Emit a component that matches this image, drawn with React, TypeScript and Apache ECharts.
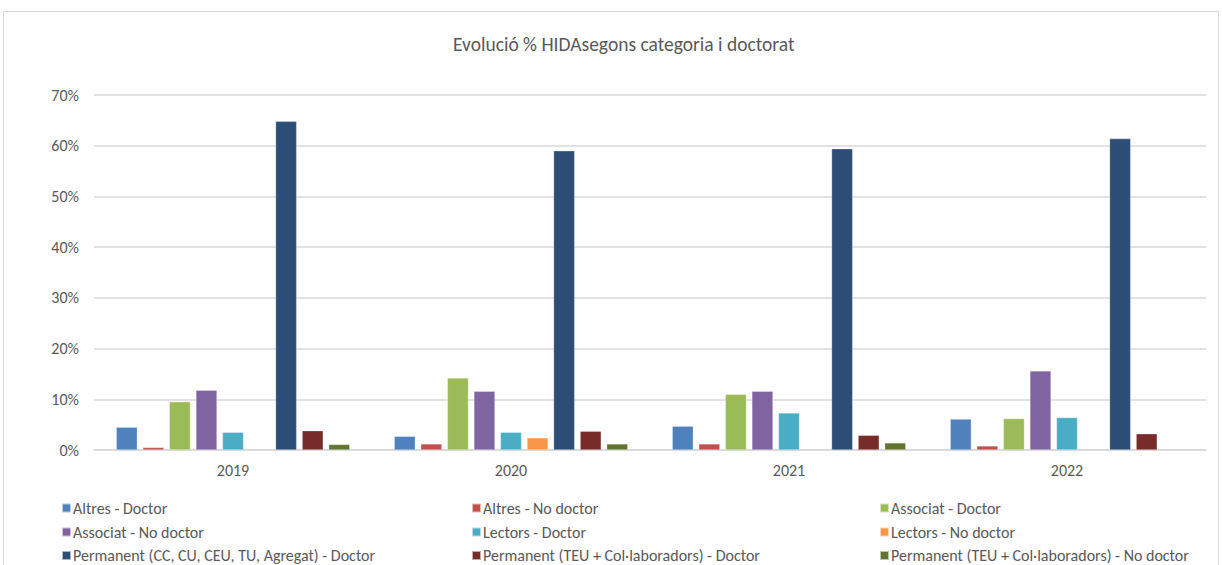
import React, { useEffect, useRef } from "react";
import * as echarts from "echarts";

const years = ["2019", "2020", "2021", "2022"];
const seriesNames = [
  "Altres - Doctor",
  "Altres - No doctor",
  "Associat - Doctor",
  "Associat - No doctor",
  "Lectors - Doctor",
  "Lectors - No doctor",
  "Permanent (CC, CU, CEU, TU, Agregat) - Doctor",
  "Permanent (TEU + Col·laboradors) - Doctor",
  "Permanent (TEU + Col·laboradors) - No doctor",
];
const colors = ["#4F81BD", "#C0504D", "#9BBB59", "#8064A2", "#4BACC6", "#F79646", "#2C4D75", "#772C2A", "#5F7530"];

const altresDoctor = [4.5, 2.7, 4.7, 6.1];
const altresNoDoctor = [0.5, 1.2, 1.2, 0.8];
const associatDoctor = [9.5, 14.2, 11.0, 6.2];
const associatNoDoctor = [11.8, 11.6, 11.6, 15.6];
const lectorsDoctor = [3.5, 3.5, 7.3, 6.4];
const lectorsNoDoctor = [null, 2.4, null, null];
const permanentDoctor = [64.8, 59.0, 59.4, 61.4];
const teuDoctor = [3.8, 3.7, 2.9, 3.2];
const teuNoDoctor = [1.1, 1.2, 1.4, null];

const allValues = [
  altresDoctor, altresNoDoctor, associatDoctor, associatNoDoctor, lectorsDoctor,
  lectorsNoDoctor, permanentDoctor, teuDoctor, teuNoDoctor,
];

const yTicks = { min: 0, max: 70, interval: 10 };

const FONT = "Carlito, Lato, 'Noto Sans', sans-serif";
const GREY = "#595959";

export default function App() {
  const ref = useRef<HTMLDivElement>(null);
  useEffect(() => {
    const chart = echarts.init(ref.current!, null, { renderer: "svg" });
    const colLefts = [56, 466, 874];
    const rowCenters = [507, 531, 554.5];
    const legends = seriesNames.map((name, i) => ({
      orient: "horizontal",
      left: colLefts[i % 3],
      top: rowCenters[Math.floor(i / 3)] - 12,
      itemWidth: 9,
      itemHeight: 9,
      icon: "rect",
      data: [name],
      textStyle: { fontSize: 16, color: GREY, fontFamily: FONT, lineHeight: 14, padding: [0, 0, 0, -3] },
      selectedMode: false,
    }));
    chart.setOption({
      animation: false,
      color: colors,
      textStyle: { fontFamily: FONT },
      title: {
        text: "Evolució % HIDAsegons categoria i doctorat",
        left: 448,
        top: 29,
        textStyle: { fontSize: 19.5, fontWeight: "normal", color: GREY, fontFamily: FONT },
      },
      graphic: [
        {
          type: "rect",
          shape: { x: 3.5, y: 11.5, width: 1215, height: 620 },
          style: { fill: "none", stroke: "#D9D9D9", lineWidth: 1 },
          silent: true,
        },
      ],
      legend: legends,
      grid: { left: 94, right: 16, top: 95, bottom: 115, containLabel: false },
      xAxis: {
        type: "category",
        data: years,
        axisTick: { show: false },
        axisLine: { lineStyle: { color: "#D9D9D9", width: 1.5 } },
        axisLabel: { fontSize: 16, color: GREY, margin: 12, fontFamily: FONT },
      },
      yAxis: {
        type: "value",
        min: yTicks.min,
        max: yTicks.max,
        interval: yTicks.interval,
        axisLine: { show: false },
        axisTick: { show: false },
        splitLine: { lineStyle: { color: "#D9D9D9", width: 1.5 } },
        axisLabel: { formatter: "{value}%", fontSize: 16, color: GREY, margin: 15, fontFamily: FONT },
      },
      series: seriesNames.map((name, i) => ({
        name,
        type: "bar",
        data: allValues[i],
        barGap: "26%",
        barCategoryGap: "16%",
        itemStyle: { color: colors[i], borderColor: "rgba(255,255,255,0.6)", borderWidth: 0.5 },
      })),
    });
    return () => chart.dispose();
  }, []);
  return (
    <div
      ref={ref}
      style={{ position: "absolute", left: 0, top: 0, width: 1222, height: 565, background: "#fff" }}
    />
  );
}
